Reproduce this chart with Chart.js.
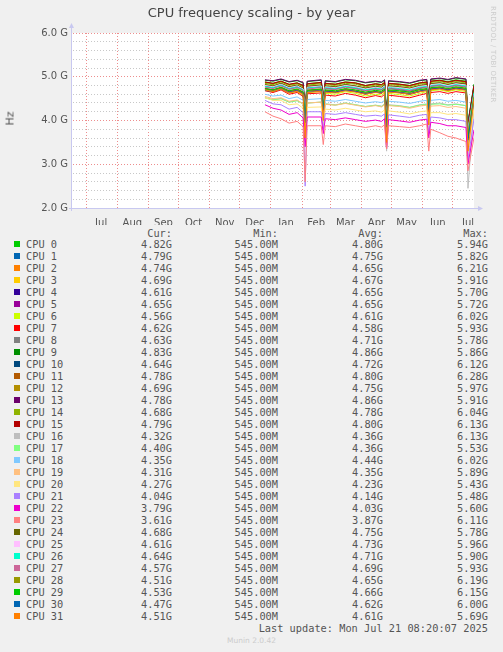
<!DOCTYPE html>
<html><head><meta charset="utf-8">
<script src="https://cdn.jsdelivr.net/npm/chart.js@4/dist/chart.umd.min.js"></script>
<style>
body{margin:0;background:#f0f0f0;width:503px;height:652px;overflow:hidden;position:relative;font-family:"DejaVu Sans",sans-serif;}
#wrap{position:absolute;left:0;top:0;width:503px;height:225px;}
#title{position:absolute;left:0;width:503px;top:5px;text-align:center;font-size:13px;color:#444;}
#ylab{position:absolute;left:3px;top:112px;font-size:11px;color:#555;transform:rotate(-90deg);}
#rrd{position:absolute;left:489px;top:6px;font-size:7px;color:#ccc;writing-mode:vertical-rl;letter-spacing:0.3px;}
.t{position:absolute;font-family:"DejaVu Sans Mono",monospace;font-size:10.3px;color:#555;white-space:pre;line-height:12px;}
.sq{position:absolute;width:6px;height:6px;}
</style></head><body>
<div id="wrap"><canvas id="c" width="503" height="225"></canvas></div>
<div id="title">CPU frequency scaling - by year</div>
<div id="ylab">Hz</div>
<div id="rrd">RRDTOOL / TOBI OETIKER</div>
<div id="leg"></div>
<script>
// days since 2024-07-01
const days=[178,186,194,202,210,216,218,220,234,236,238,248,258,268,278,288,294,297,299,301,312,322,332,339,341,343,352,360,368,378,380,386];
const monthStarts=[0,31,62,92,123,153,184,215,243,274,304,335,365];
const monthMids=[15,46,77,107,138,168,199,229,258,289,319,350,380];
const monthLabels=["Jul","Aug","Sep","Oct","Nov","Dec","Jan","Feb","Mar","Apr","May","Jun","Jul"];
const names=["CPU 0","CPU 1","CPU 2","CPU 3","CPU 4","CPU 5","CPU 6","CPU 7","CPU 8","CPU 9","CPU 10","CPU 11","CPU 12","CPU 13","CPU 14","CPU 15","CPU 16","CPU 17","CPU 18","CPU 19","CPU 20","CPU 21","CPU 22","CPU 23","CPU 24","CPU 25","CPU 26","CPU 27","CPU 28","CPU 29","CPU 30","CPU 31"];
const colors=["#00CC00","#0066B3","#FF8000","#FFCC00","#330099","#990099","#CCFF00","#FF0000","#808080","#008F00","#00487D","#B35A00","#B38F00","#6B006B","#8FB300","#B30000","#BEBEBE","#80FF80","#80C9FF","#FFC080","#FFE680","#AA80FF","#EE00CC","#FF8080","#666600","#FFBFFF","#00FFCC","#CC6699","#999900","#00CC00","#0066B3","#FF8000"];
const cur=["4.82G","4.79G","4.74G","4.69G","4.61G","4.65G","4.56G","4.62G","4.63G","4.83G","4.64G","4.78G","4.69G","4.78G","4.68G","4.79G","4.32G","4.40G","4.35G","4.31G","4.27G","4.04G","3.79G","3.61G","4.68G","4.61G","4.64G","4.57G","4.51G","4.53G","4.47G","4.51G"];
const mins=Array(32).fill("545.00M");
const avg=["4.80G","4.75G","4.65G","4.67G","4.65G","4.65G","4.61G","4.58G","4.71G","4.86G","4.72G","4.80G","4.75G","4.86G","4.78G","4.80G","4.36G","4.36G","4.44G","4.35G","4.23G","4.14G","4.03G","3.87G","4.75G","4.73G","4.71G","4.69G","4.65G","4.66G","4.62G","4.61G"];
const maxs=["5.94G","5.82G","6.21G","5.91G","5.70G","5.72G","6.02G","5.93G","5.78G","5.86G","6.12G","6.28G","5.97G","5.91G","6.04G","6.13G","6.13G","5.53G","6.02G","5.89G","5.43G","5.48G","5.60G","6.11G","5.78G","5.96G","5.90G","5.93G","6.19G","6.15G","6.00G","5.69G"];
const cpu0=[4.88,4.85,4.90,4.82,4.86,4.80,4.20,4.84,4.87,4.45,4.85,4.83,4.88,4.86,4.80,4.84,4.82,4.87,4.10,4.85,4.83,4.80,4.86,4.88,4.50,4.90,4.92,4.89,4.93,4.90,3.90,4.82];
const cpu1=[4.80,4.78,4.84,4.76,4.80,4.74,4.10,4.78,4.80,4.40,4.78,4.76,4.82,4.78,4.74,4.77,4.75,4.80,4.00,4.78,4.76,4.73,4.79,4.82,4.45,4.84,4.86,4.82,4.86,4.84,3.80,4.79];
const cpu2=[4.72,4.68,4.75,4.66,4.70,4.62,3.70,4.67,4.70,4.10,4.66,4.64,4.70,4.66,4.60,4.65,4.62,4.68,3.60,4.66,4.63,4.60,4.66,4.70,4.00,4.72,4.74,4.70,4.75,4.72,3.40,4.74];
const cpu3=[4.74,4.70,4.76,4.68,4.72,4.65,4.00,4.70,4.72,4.30,4.68,4.66,4.72,4.68,4.63,4.67,4.64,4.70,3.90,4.68,4.65,4.62,4.68,4.72,4.30,4.74,4.76,4.72,4.76,4.73,3.70,4.69];
const cpu4=[4.73,4.70,4.74,4.66,4.70,4.64,4.00,4.68,4.71,4.30,4.67,4.65,4.70,4.67,4.62,4.66,4.63,4.69,3.90,4.67,4.64,4.61,4.67,4.71,4.30,4.72,4.75,4.70,4.74,4.70,3.70,4.61];
const cpu5=[4.72,4.69,4.75,4.67,4.70,4.63,4.00,4.69,4.70,4.30,4.66,4.64,4.70,4.66,4.61,4.66,4.62,4.68,3.90,4.66,4.64,4.60,4.66,4.70,4.30,4.73,4.74,4.70,4.74,4.71,3.70,4.65];
const cpu6=[4.70,4.66,4.72,4.63,4.66,4.58,3.90,4.64,4.66,4.20,4.62,4.60,4.66,4.62,4.56,4.60,4.58,4.64,3.80,4.62,4.59,4.56,4.62,4.66,4.20,4.68,4.70,4.66,4.70,4.66,3.60,4.56];
const cpu7=[4.68,4.64,4.70,4.60,4.64,4.55,3.90,4.61,4.63,4.20,4.58,4.56,4.62,4.58,4.52,4.57,4.54,4.60,3.80,4.58,4.55,4.52,4.58,4.62,4.20,4.64,4.66,4.62,4.66,4.63,3.60,4.62];
const cpu8=[4.78,4.74,4.80,4.72,4.76,4.70,4.05,4.74,4.76,4.35,4.73,4.71,4.77,4.73,4.68,4.72,4.70,4.75,3.95,4.73,4.70,4.67,4.73,4.77,4.35,4.78,4.80,4.76,4.80,4.77,3.75,4.63];
const cpu9=[4.92,4.90,4.94,4.88,4.91,4.86,4.25,4.89,4.92,4.50,4.90,4.88,4.93,4.91,4.86,4.89,4.87,4.92,4.15,4.90,4.88,4.85,4.91,4.93,4.55,4.94,4.96,4.93,4.97,4.94,3.95,4.83];
const cpu10=[4.79,4.75,4.81,4.73,4.77,4.70,4.05,4.75,4.77,4.35,4.74,4.72,4.78,4.74,4.69,4.73,4.71,4.76,3.95,4.74,4.71,4.68,4.74,4.78,4.35,4.79,4.81,4.77,4.81,4.78,3.75,4.64];
const cpu11=[4.87,4.84,4.89,4.82,4.85,4.79,4.15,4.83,4.86,4.45,4.84,4.82,4.87,4.85,4.79,4.83,4.81,4.86,4.05,4.84,4.82,4.79,4.85,4.87,4.45,4.89,4.91,4.87,4.91,4.88,3.85,4.78];
const cpu12=[4.82,4.79,4.85,4.77,4.81,4.74,4.10,4.78,4.81,4.40,4.79,4.77,4.82,4.79,4.74,4.78,4.76,4.81,4.00,4.79,4.77,4.74,4.80,4.82,4.40,4.84,4.86,4.82,4.86,4.83,3.80,4.69];
const cpu13=[4.93,4.91,4.95,4.89,4.92,4.87,4.25,4.90,4.93,4.50,4.91,4.89,4.94,4.92,4.87,4.90,4.88,4.93,4.15,4.91,4.89,4.86,4.92,4.94,4.55,4.95,4.97,4.94,4.98,4.95,3.95,4.78];
const cpu14=[4.85,4.82,4.88,4.80,4.84,4.77,4.15,4.81,4.84,4.40,4.82,4.80,4.85,4.83,4.77,4.81,4.79,4.84,4.00,4.82,4.80,4.77,4.83,4.85,4.45,4.87,4.89,4.85,4.89,4.86,3.85,4.68];
const cpu15=[4.88,4.85,4.90,4.83,4.86,4.80,4.15,4.84,4.87,4.45,4.85,4.83,4.88,4.86,4.80,4.84,4.82,4.87,4.05,4.85,4.83,4.80,4.86,4.88,4.45,4.90,4.92,4.88,4.92,4.89,3.85,4.79];
const cpu16=[4.52,4.48,4.50,4.42,4.46,4.38,3.70,4.40,4.42,4.00,4.38,4.36,4.40,4.36,4.32,4.35,4.33,4.38,3.30,4.36,4.34,4.30,4.36,4.38,3.90,4.38,4.40,4.36,4.38,4.34,2.45,4.32];
const cpu17=[4.52,4.47,4.50,4.42,4.45,4.38,3.70,4.40,4.42,4.00,4.38,4.35,4.40,4.36,4.32,4.35,4.32,4.37,3.50,4.35,4.33,4.30,4.35,4.37,3.90,4.37,4.38,4.35,4.37,4.34,3.30,4.40];
const cpu18=[4.60,4.56,4.58,4.50,4.54,4.46,3.80,4.48,4.50,4.05,4.46,4.44,4.48,4.44,4.40,4.43,4.41,4.46,3.60,4.44,4.42,4.39,4.44,4.46,4.00,4.46,4.48,4.44,4.46,4.42,3.40,4.35];
const cpu19=[4.55,4.50,4.52,4.44,4.47,4.38,3.70,4.40,4.42,4.00,4.37,4.35,4.39,4.35,4.31,4.34,4.31,4.36,3.50,4.34,4.32,4.28,4.33,4.35,3.90,4.33,4.34,4.30,4.32,4.28,3.30,4.31];
const cpu20=[4.52,4.46,4.46,4.36,4.38,4.28,3.60,4.30,4.31,3.90,4.26,4.24,4.28,4.24,4.20,4.22,4.19,4.24,3.40,4.22,4.19,4.15,4.20,4.22,3.80,4.18,4.18,4.14,4.16,4.12,3.20,4.27];
const cpu21=[4.46,4.38,4.36,4.26,4.30,4.18,2.50,4.20,4.20,3.80,4.16,4.14,4.18,4.14,4.10,4.12,4.10,4.15,3.35,4.13,4.10,4.07,4.12,4.14,3.70,4.08,4.06,4.02,4.02,3.98,3.10,4.04];
const cpu22=[4.36,4.28,4.24,4.14,4.18,4.06,3.40,4.08,4.08,3.70,4.04,4.02,4.06,4.02,3.98,4.01,3.98,4.04,3.35,4.02,3.99,3.96,4.01,4.03,3.60,3.96,3.93,3.88,3.88,3.84,3.00,3.79];
const cpu23=[4.20,4.10,4.04,3.94,3.98,3.86,2.60,3.88,3.88,3.45,3.88,3.86,3.92,3.88,3.84,3.88,3.85,3.90,3.35,3.88,3.86,3.84,3.88,3.92,3.30,3.80,3.72,3.64,3.60,3.52,2.85,3.61];
const cpu24=[4.82,4.79,4.85,4.77,4.81,4.74,4.10,4.78,4.81,4.40,4.79,4.77,4.82,4.79,4.74,4.78,4.76,4.81,4.00,4.79,4.77,4.74,4.80,4.82,4.40,4.84,4.86,4.82,4.86,4.83,3.80,4.68];
const cpu25=[4.80,4.77,4.83,4.75,4.79,4.72,4.10,4.76,4.79,4.38,4.77,4.75,4.80,4.77,4.72,4.76,4.74,4.79,3.98,4.77,4.75,4.72,4.78,4.80,4.38,4.82,4.84,4.80,4.84,4.81,3.78,4.61];
const cpu26=[4.78,4.75,4.81,4.73,4.77,4.70,4.05,4.74,4.77,4.35,4.75,4.73,4.78,4.75,4.70,4.74,4.72,4.77,3.95,4.75,4.73,4.70,4.76,4.78,4.35,4.80,4.82,4.78,4.82,4.79,3.75,4.64];
const cpu27=[4.76,4.73,4.79,4.71,4.75,4.68,4.05,4.72,4.75,4.33,4.73,4.71,4.76,4.73,4.68,4.72,4.70,4.75,3.93,4.73,4.71,4.68,4.74,4.76,4.33,4.78,4.80,4.76,4.80,4.77,3.73,4.57];
const cpu28=[4.72,4.69,4.75,4.67,4.71,4.64,4.00,4.68,4.71,4.30,4.69,4.67,4.72,4.69,4.64,4.68,4.66,4.71,3.90,4.69,4.67,4.64,4.70,4.72,4.30,4.74,4.76,4.72,4.76,4.73,3.70,4.51];
const cpu29=[4.73,4.70,4.76,4.68,4.72,4.65,4.00,4.69,4.72,4.30,4.70,4.68,4.73,4.70,4.65,4.69,4.67,4.72,3.90,4.70,4.68,4.65,4.71,4.73,4.30,4.75,4.77,4.73,4.77,4.74,3.60,4.53];
const cpu30=[4.69,4.66,4.72,4.64,4.68,4.61,3.95,4.65,4.68,4.25,4.66,4.64,4.69,4.66,4.61,4.65,4.63,4.68,3.85,4.66,4.64,4.61,4.67,4.69,4.25,4.71,4.73,4.69,4.73,4.70,3.55,4.47];
const cpu31=[4.70,4.66,4.72,4.63,4.67,4.60,3.60,4.64,4.67,4.00,4.65,4.63,4.68,4.65,4.60,4.64,4.62,4.67,3.50,4.65,4.63,4.60,4.66,4.68,3.90,4.70,4.72,4.68,4.72,4.69,3.30,4.51];
const series=[cpu0,cpu1,cpu2,cpu3,cpu4,cpu5,cpu6,cpu7,cpu8,cpu9,cpu10,cpu11,cpu12,cpu13,cpu14,cpu15,cpu16,cpu17,cpu18,cpu19,cpu20,cpu21,cpu22,cpu23,cpu24,cpu25,cpu26,cpu27,cpu28,cpu29,cpu30,cpu31];

const datasets=series.map((s,i)=>({label:names[i],data:s.map((v,j)=>({x:days[j],y:v})),borderColor:colors[i],borderWidth:1,pointRadius:0,tension:0,order:32-i,xAxisID:'x'}));
const bg={id:'bg',beforeDraw(ch){const a=ch.chartArea,c=ch.ctx;c.save();c.fillStyle='#fff';c.fillRect(a.left,a.top,a.right-a.left,a.bottom-a.top);c.restore();},
 afterDraw(ch){const a=ch.chartArea,c=ch.ctx;c.save();c.strokeStyle='#c8c8f0';c.fillStyle='#c8c8f0';c.lineWidth=1;
 c.beginPath();c.moveTo(a.left-0.5,a.bottom+3);c.lineTo(a.left-0.5,a.top-5);c.moveTo(a.left-3,a.bottom+0.5);c.lineTo(a.right+4,a.bottom+0.5);c.stroke();
 c.beginPath();c.moveTo(a.left-3,a.top-5);c.lineTo(a.left+2,a.top-5);c.lineTo(a.left-0.5,a.top-10);c.fill();
 c.beginPath();c.moveTo(a.right+4,a.bottom-2);c.lineTo(a.right+4,a.bottom+3);c.lineTo(a.right+9,a.bottom+0.5);c.fill();c.restore();}};
new Chart(document.getElementById('c'),{type:'line',data:{datasets},plugins:[bg],
options:{responsive:false,animation:false,events:[],layout:{padding:{left:0,right:29,top:33,bottom:0}},
plugins:{legend:{display:false},tooltip:{enabled:false},title:{display:false}},
scales:{
 x:{type:'linear',min:-14,max:386,position:'bottom',afterBuildTicks(s){s.ticks=monthStarts.map(v=>({value:v}));},
   ticks:{display:false},grid:{color:'rgba(235,130,130,0.9)',drawTicks:false},border:{display:true,color:'rgba(0,0,0,0)',dash:[1,2]},afterFit(s){s.height=0;}},
 x2:{type:'linear',min:-14,max:386,position:'bottom',afterBuildTicks(s){s.ticks=monthMids.map(v=>({value:v}));},
   ticks:{autoSkip:false,maxRotation:0,padding:1,color:'#555',font:{family:'DejaVu Sans',size:10},callback:(v,i)=>monthLabels[i]},grid:{display:false},border:{display:false},afterFit(s){s.height=17;}},
 y:{min:2,max:6,afterBuildTicks(s){const t=[];for(let k=0;k<=20;k++)t.push({value:2+k*0.2});s.ticks=t;},
   ticks:{autoSkip:false,padding:4,color:'#555',font:{family:'DejaVu Sans',size:10},callback:(v)=>Math.abs(v-Math.round(v))<1e-6?v.toFixed(1)+' G':''},
   grid:{color:(c)=>{const v=c.tick.value;return Math.abs(v-Math.round(v))<1e-6?'rgba(235,130,130,0.9)':'#c8c8c8';},drawTicks:false},border:{display:true,color:'rgba(0,0,0,0)',dash:[1,2]},afterFit(s){s.width=72;}}
}}});

// legend table
const leg=document.getElementById('leg');
function t(x,y,s,right){const d=document.createElement('div');d.className='t';d.textContent=s;d.style.top=(y-6)+'px';if(right){d.style.right=(503-x)+'px';}else d.style.left=x+'px';leg.appendChild(d);}
t(172,233,'Cur:',1);t(278,233,'Min:',1);t(383,233,'Avg:',1);t(488,233,'Max:',1);
names.forEach((n,i)=>{const y=244+i*12;const s=document.createElement('div');s.className='sq';s.style.left='14px';s.style.top=(y-3)+'px';s.style.background=colors[i];leg.appendChild(s);
 t(26,y,n);t(172,y,cur[i],1);t(278,y,mins[i],1);t(383,y,avg[i],1);t(488,y,maxs[i],1);});
t(488,628,'Last update: Mon Jul 21 08:20:07 2025',1);
const m=document.createElement('div');m.style.cssText='position:absolute;left:0;width:503px;top:636px;text-align:center;font-size:7.5px;color:#ccc;';m.textContent='Munin 2.0.42';document.body.appendChild(m);
</script></body></html>
